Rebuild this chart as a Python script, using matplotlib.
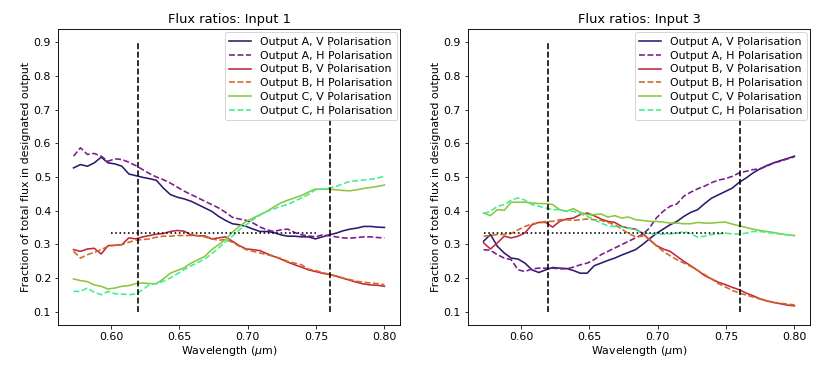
import numpy as np
import matplotlib
matplotlib.use("Agg")
import matplotlib.pyplot as plt

# wavelength sampling grid (micron)
wavelength = np.linspace(0.5725, 0.80, 46)

# ---- Input 1 ----
in1_A_V = [0.527,0.537,0.532,0.542,0.559,0.542,0.539,0.532,0.509,0.504,0.499,0.495,0.490,0.467,0.448,0.440,
           0.435,0.428,0.418,0.408,0.398,0.383,0.371,0.361,0.358,0.353,0.345,0.338,0.338,0.335,0.328,0.324,
           0.324,0.322,0.322,0.316,0.322,0.328,0.333,0.340,0.345,0.348,0.353,0.353,0.351,0.350]
in1_A_H = [0.562,0.587,0.567,0.570,0.562,0.547,0.554,0.552,0.544,0.534,0.522,0.510,0.500,0.492,0.482,0.470,
           0.458,0.448,0.438,0.428,0.418,0.408,0.395,0.380,0.375,0.371,0.363,0.351,0.343,0.338,0.343,0.345,
           0.335,0.328,0.325,0.322,0.328,0.325,0.322,0.319,0.318,0.320,0.322,0.322,0.320,0.319]
in1_B_V = [0.284,0.279,0.286,0.288,0.271,0.296,0.297,0.299,0.319,0.316,0.322,0.326,0.330,0.332,0.338,0.341,
           0.339,0.328,0.325,0.325,0.316,0.319,0.322,0.309,0.296,0.286,0.284,0.281,0.272,0.264,0.256,0.247,
           0.239,0.232,0.224,0.219,0.214,0.210,0.205,0.199,0.193,0.187,0.182,0.179,0.178,0.175]
in1_B_H = [0.279,0.259,0.269,0.276,0.284,0.294,0.297,0.299,0.306,0.312,0.314,0.316,0.321,0.324,0.324,0.326,
           0.326,0.326,0.326,0.322,0.316,0.312,0.314,0.306,0.294,0.284,0.279,0.274,0.269,0.264,0.258,0.249,
           0.244,0.239,0.226,0.222,0.216,0.211,0.206,0.200,0.195,0.190,0.187,0.185,0.183,0.180]
in1_C_V = [0.197,0.192,0.189,0.179,0.175,0.167,0.170,0.175,0.177,0.183,0.185,0.183,0.183,0.197,0.214,0.222,
           0.230,0.244,0.254,0.264,0.284,0.299,0.314,0.336,0.353,0.368,0.378,0.388,0.398,0.411,0.423,0.431,
           0.438,0.445,0.455,0.464,0.464,0.464,0.462,0.460,0.459,0.462,0.466,0.469,0.472,0.476]
in1_C_H = [0.160,0.160,0.170,0.157,0.150,0.160,0.153,0.152,0.150,0.152,0.165,0.180,0.183,0.190,0.200,0.212,
           0.225,0.236,0.246,0.256,0.272,0.289,0.307,0.324,0.343,0.358,0.373,0.387,0.398,0.405,0.413,0.418,
           0.428,0.438,0.448,0.462,0.464,0.467,0.472,0.480,0.487,0.489,0.491,0.493,0.497,0.502]

# ---- Input 3 ----
in3_A_V = [0.309,0.329,0.294,0.274,0.259,0.256,0.244,0.224,0.216,0.224,0.231,0.229,0.228,0.222,0.214,0.214,
           0.236,0.244,0.252,0.259,0.268,0.276,0.284,0.299,0.316,0.332,0.345,0.358,0.368,0.383,0.395,0.403,
           0.421,0.437,0.447,0.457,0.467,0.484,0.497,0.512,0.524,0.534,0.542,0.549,0.555,0.562]
in3_A_H = [0.284,0.282,0.269,0.259,0.254,0.224,0.219,0.227,0.229,0.229,0.229,0.227,0.227,0.232,0.239,0.244,
           0.254,0.269,0.279,0.289,0.299,0.309,0.319,0.329,0.348,0.378,0.398,0.413,0.420,0.443,0.455,0.465,
           0.473,0.483,0.491,0.495,0.502,0.512,0.517,0.522,0.524,0.532,0.542,0.547,0.554,0.560]
in3_B_V = [0.304,0.286,0.304,0.324,0.319,0.324,0.334,0.358,0.365,0.365,0.351,0.368,0.375,0.378,0.388,0.393,
           0.385,0.375,0.368,0.365,0.353,0.348,0.345,0.333,0.314,0.296,0.286,0.279,0.264,0.249,0.236,0.222,
           0.207,0.197,0.187,0.180,0.172,0.165,0.155,0.147,0.138,0.132,0.127,0.123,0.119,0.117]
in3_B_H = [0.324,0.326,0.329,0.329,0.332,0.343,0.353,0.361,0.363,0.368,0.368,0.373,0.373,0.371,0.373,0.375,
           0.373,0.371,0.365,0.358,0.345,0.332,0.322,0.324,0.316,0.296,0.279,0.266,0.254,0.244,0.234,0.222,
           0.210,0.197,0.183,0.173,0.163,0.155,0.149,0.143,0.137,0.131,0.127,0.125,0.122,0.120]
in3_C_V = [0.393,0.385,0.403,0.401,0.425,0.425,0.425,0.423,0.421,0.421,0.418,0.403,0.398,0.406,0.395,0.388,
           0.388,0.390,0.381,0.385,0.378,0.381,0.373,0.371,0.368,0.368,0.366,0.363,0.363,0.361,0.361,0.365,
           0.363,0.363,0.365,0.366,0.360,0.355,0.350,0.345,0.341,0.338,0.335,0.331,0.328,0.326]
in3_C_H = [0.391,0.398,0.413,0.418,0.431,0.438,0.431,0.418,0.413,0.408,0.403,0.403,0.398,0.398,0.391,0.383,
           0.373,0.363,0.355,0.353,0.351,0.348,0.343,0.335,0.331,0.331,0.330,0.331,0.333,0.338,0.331,0.321,
           0.324,0.329,0.331,0.333,0.331,0.330,0.333,0.338,0.338,0.335,0.333,0.330,0.328,0.326]

labels = ["Output A, V Polarisation", "Output A, H Polarisation",
          "Output B, V Polarisation", "Output B, H Polarisation",
          "Output C, V Polarisation", "Output C, H Polarisation"]
titles = ["Flux ratios: Input 1", "Flux ratios: Input 3"]
band_edges = [0.62, 0.76]
equal_split = 1.0 / 3.0
dotted_ranges = [(0.60, 0.75), (0.5725, 0.75)]

colors = ["#2d1a6e", "#7b1a8c", "#c1283f", "#cf6a1e", "#8cc63f", "#3ff08f"]
styles = ["-", "--", "-", "--", "-", "--"]

datasets = [[in1_A_V, in1_A_H, in1_B_V, in1_B_H, in1_C_V, in1_C_H],
            [in3_A_V, in3_A_H, in3_B_V, in3_B_H, in3_C_V, in3_C_H]]

plt.rcParams["font.size"] = 11
plt.rcParams["axes.linewidth"] = 0.9

fig = plt.figure(figsize=(830/72, 374/72), dpi=72)
lefts = [58/830, 468/830]
width = 342/830
bottom = 1 - 325/374
height = 296/374

for k in range(2):
    ax = fig.add_axes([lefts[k], bottom, width, height])
    for series, lab, c, ls in zip(datasets[k], labels, colors, styles):
        ax.plot(wavelength, series, color=c, linestyle=ls, linewidth=1.6, label=lab)
    for b in band_edges:
        ax.vlines(b, 0.1, 0.9, colors="k", linestyles="dashed", linewidth=1.6)
    ax.hlines(equal_split, dotted_ranges[k][0], dotted_ranges[k][1], colors="k",
              linestyles="dotted", linewidth=1.6)
    ax.set_title(titles[k], fontsize=13)
    ax.set_xlabel("Wavelength ($\\mu$m)", labelpad=2)
    ax.set_ylabel("Fraction of total flux in designated output", labelpad=3)
    ax.set_xticks([0.60, 0.65, 0.70, 0.75, 0.80])
    ax.set_yticks([0.1, 0.2, 0.3, 0.4, 0.5, 0.6, 0.7, 0.8, 0.9])
    ax.legend(loc="upper right", fontsize=11, borderaxespad=0.3, labelspacing=0.35)

fig.savefig("out.png", dpi=72)
